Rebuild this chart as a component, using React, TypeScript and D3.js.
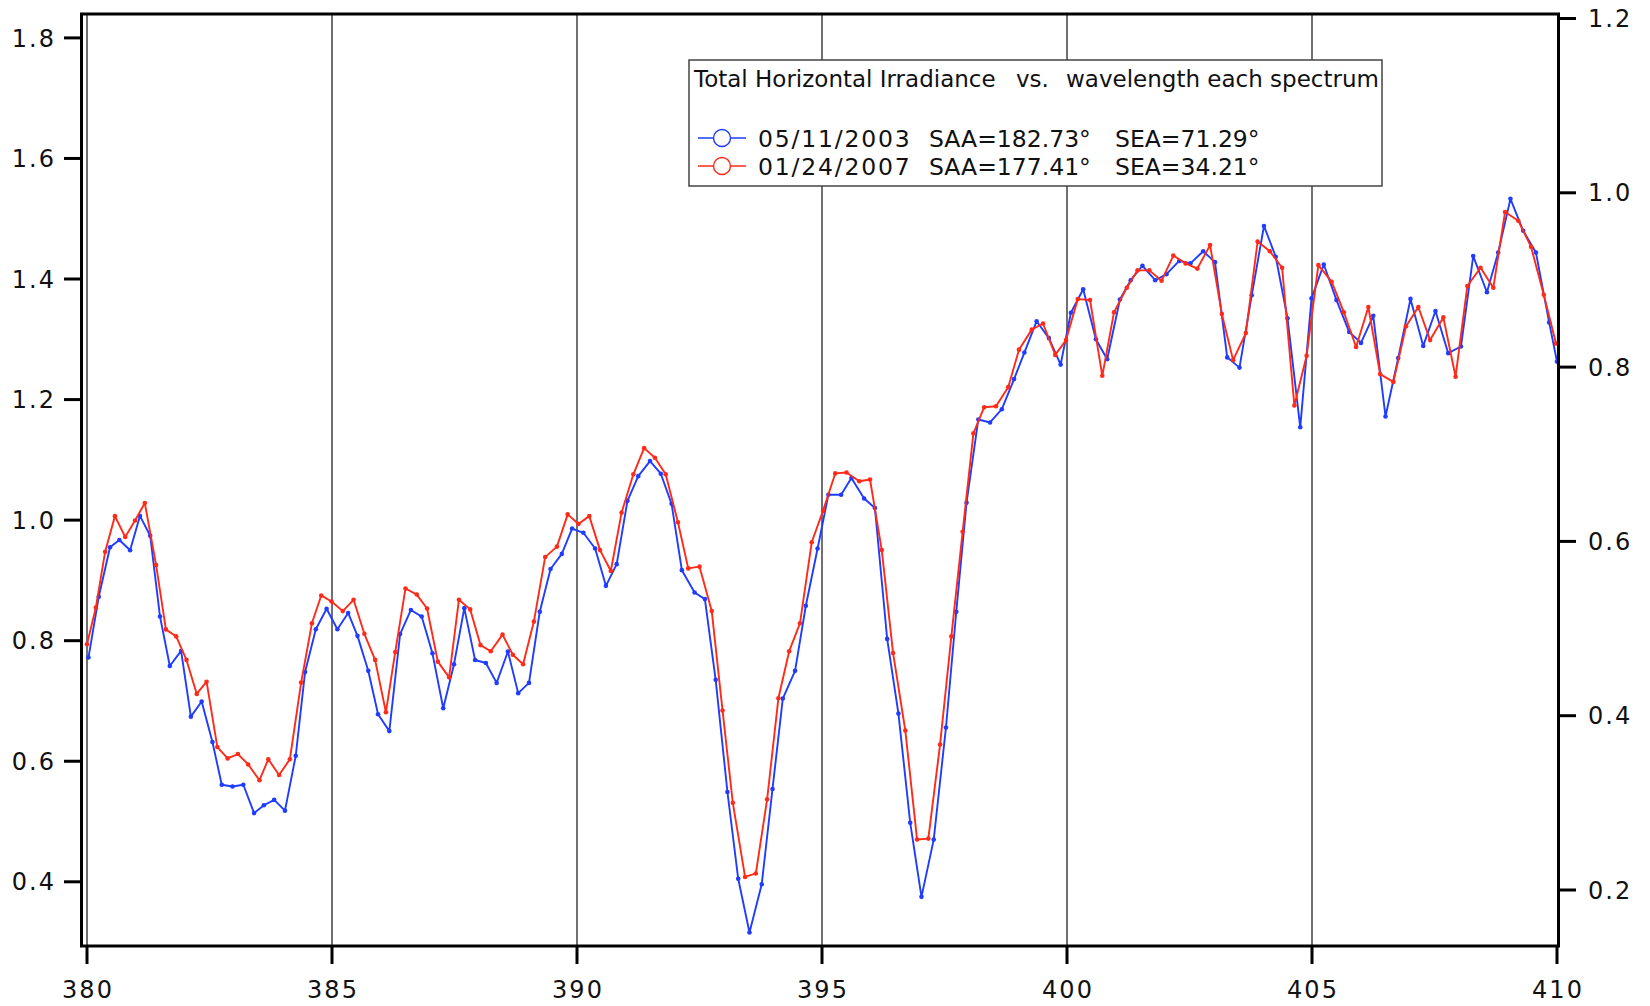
import React from "react";
import * as d3 from "d3";

// 05/11/2003 spectrum (left axis)
const blueWavelength = [
  380.03, 380.24, 380.47, 380.66, 380.88, 381.08, 381.29, 381.49, 381.69, 381.92,
  382.12, 382.34, 382.56, 382.75, 382.97, 383.19, 383.41, 383.61, 383.82, 384.04,
  384.26, 384.45, 384.67, 384.89, 385.11, 385.33, 385.52, 385.74, 385.94, 386.17,
  386.39, 386.61, 386.83, 387.05, 387.27, 387.49, 387.7, 387.92, 388.14, 388.36,
  388.59, 388.8, 389.02, 389.24, 389.46, 389.69, 389.9, 390.13, 390.37, 390.59,
  390.81, 391.03, 391.25, 391.49, 391.71, 391.93, 392.14, 392.4, 392.61, 392.83,
  393.07, 393.29, 393.52, 393.77, 393.99, 394.2, 394.45, 394.67, 394.91, 395.13,
  395.39, 395.6, 395.86, 396.08, 396.33, 396.56, 396.8, 397.03, 397.28, 397.53,
  397.74, 397.95, 398.19, 398.43, 398.67, 398.92, 399.13, 399.38, 399.63, 399.87,
  400.08, 400.33, 400.59, 400.82, 401.08, 401.3, 401.54, 401.8, 402.03, 402.29,
  402.52, 402.78, 403.02, 403.27, 403.52, 403.77, 404.02, 404.26, 404.5, 404.76,
  404.99, 405.24, 405.5, 405.76, 406.0, 406.25, 406.5, 406.76, 407.01, 407.27,
  407.52, 407.78, 408.04, 408.29, 408.57, 408.8, 409.05, 409.31, 409.57, 409.84,
  410.0,
];
const blueIrradiance = [
  0.772, 0.873, 0.955, 0.967, 0.95, 1.007, 0.974, 0.84, 0.758, 0.783,
  0.674, 0.699, 0.632, 0.561, 0.558, 0.561, 0.514, 0.527, 0.536, 0.518,
  0.609, 0.748, 0.819, 0.853, 0.819, 0.846, 0.808, 0.75, 0.678, 0.65,
  0.811, 0.851, 0.84, 0.779, 0.688, 0.761, 0.854, 0.768, 0.763, 0.73,
  0.782, 0.713, 0.73, 0.848, 0.919, 0.944, 0.986, 0.979, 0.953, 0.891,
  0.927, 1.032, 1.073, 1.098, 1.077, 1.027, 0.917, 0.88, 0.869, 0.735,
  0.549, 0.405, 0.316, 0.396, 0.554, 0.704, 0.75, 0.858, 0.953, 1.042,
  1.042, 1.07, 1.036, 1.02, 0.803, 0.679, 0.498, 0.375, 0.47, 0.656,
  0.848, 1.029, 1.167, 1.162, 1.184, 1.234, 1.278, 1.33, 1.302, 1.258,
  1.344, 1.383, 1.3, 1.267, 1.366, 1.398, 1.422, 1.398, 1.408, 1.43,
  1.426, 1.446, 1.428, 1.27, 1.253, 1.373, 1.488, 1.437, 1.335, 1.154,
  1.368, 1.424, 1.365, 1.312, 1.294, 1.339, 1.172, 1.269, 1.367, 1.289,
  1.347, 1.277, 1.288, 1.438, 1.378, 1.444, 1.533, 1.48, 1.444, 1.328,
  1.263,
];

// 01/24/2007 spectrum (right axis)
const redWavelength = [
  380.0, 380.18, 380.37, 380.57, 380.78, 380.98, 381.18, 381.41, 381.61, 381.82,
  382.03, 382.24, 382.44, 382.66, 382.87, 383.08, 383.29, 383.52, 383.7, 383.92,
  384.14, 384.37, 384.59, 384.78, 384.99, 385.22, 385.44, 385.66, 385.88, 386.1,
  386.29, 386.5, 386.73, 386.94, 387.16, 387.39, 387.59, 387.82, 388.03, 388.24,
  388.48, 388.69, 388.9, 389.12, 389.35, 389.59, 389.81, 390.03, 390.25, 390.47,
  390.69, 390.91, 391.15, 391.37, 391.59, 391.81, 392.06, 392.27, 392.5, 392.75,
  392.97, 393.18, 393.43, 393.65, 393.88, 394.11, 394.33, 394.55, 394.79, 395.02,
  395.27, 395.5, 395.76, 395.98, 396.22, 396.45, 396.7, 396.94, 397.17, 397.41,
  397.64, 397.87, 398.09, 398.31, 398.55, 398.8, 399.02, 399.28, 399.51, 399.76,
  399.98, 400.22, 400.47, 400.72, 400.96, 401.22, 401.44, 401.68, 401.93, 402.17,
  402.42, 402.66, 402.92, 403.16, 403.39, 403.65, 403.89, 404.14, 404.39, 404.64,
  404.89, 405.13, 405.4, 405.65, 405.9, 406.15, 406.39, 406.66, 406.92, 407.17,
  407.41, 407.68, 407.93, 408.17, 408.44, 408.7, 408.94, 409.21, 409.47, 409.73,
  409.98,
];
const redIrradiance = [
  0.482, 0.524, 0.588, 0.629, 0.605, 0.624, 0.644, 0.573, 0.499, 0.491,
  0.464, 0.425, 0.439, 0.364, 0.351, 0.356, 0.344, 0.326, 0.35, 0.332,
  0.35, 0.438, 0.506, 0.538, 0.531, 0.52, 0.533, 0.494, 0.464, 0.404,
  0.473, 0.546, 0.539, 0.523, 0.462, 0.444, 0.533, 0.522, 0.481, 0.474,
  0.493, 0.47, 0.459, 0.508, 0.582, 0.594, 0.631, 0.62, 0.629, 0.59,
  0.566, 0.633, 0.677, 0.707, 0.696, 0.677, 0.622, 0.569, 0.571, 0.52,
  0.406, 0.3, 0.215, 0.219, 0.304, 0.42, 0.474, 0.506, 0.599, 0.635,
  0.678, 0.679, 0.669, 0.671, 0.59, 0.472, 0.383, 0.258, 0.259, 0.367,
  0.491, 0.611, 0.724, 0.754, 0.755, 0.777, 0.82, 0.843, 0.85, 0.814,
  0.831, 0.878, 0.877, 0.79, 0.863, 0.891, 0.911, 0.911, 0.899, 0.928,
  0.919, 0.913, 0.94, 0.861, 0.808, 0.839, 0.944, 0.933, 0.914, 0.756,
  0.813, 0.917, 0.898, 0.863, 0.823, 0.869, 0.792, 0.783, 0.847, 0.869,
  0.831, 0.857, 0.789, 0.893, 0.914, 0.891, 0.978, 0.968, 0.938, 0.883,
  0.827,
];

const xTicks = [380, 385, 390, 395, 400, 405, 410];
const gridWavelengths = [380, 385, 390, 395, 400, 405];
const leftTicks = [0.4, 0.6, 0.8, 1.0, 1.2, 1.4, 1.6, 1.8];
const rightTicks = [0.2, 0.4, 0.6, 0.8, 1.0, 1.2];

const legendTitleParts = ["Total Horizontal Irradiance", "vs.", "wavelength each spectrum"];
const legendDates = ["05/11/2003", "01/24/2007"];
const legendSAA = ["SAA=182.73°", "SAA=177.41°"];
const legendSEA = ["SEA=71.29°", "SEA=34.21°"];

const BLUE = "#1f3cff";
const RED = "#ff2a18";
const FONT = "'DejaVu Sans', 'Liberation Sans', sans-serif";

// plot frame
const FRAME = { left: 81.5, right: 1558.5, top: 14, bottom: 946 };

type Pt = [number, number];

export default function App() {
  const x = d3.scaleLinear().domain([380, 410]).range([87, 1557]);
  const yLeft = d3.scaleLinear().domain([0.4, 1.8]).range([881.8, 37.9]);
  const yRight = d3.scaleLinear().domain([0.2, 1.2]).range([890, 18.5]);

  const bluePts: Pt[] = blueWavelength.map((w, i) => [w, blueIrradiance[i]]);
  const redPts: Pt[] = redWavelength.map((w, i) => [w, redIrradiance[i]]);

  const lineLeft = d3.line<Pt>().x((d) => x(d[0])).y((d) => yLeft(d[1]));
  const lineRight = d3.line<Pt>().x((d) => x(d[0])).y((d) => yRight(d[1]));

  const fmt = d3.format(".1f");

  const legendX = 689;
  const legendY = 60;
  const legendW = 693;
  const legendH = 126;
  const titleX = [694, 1016, 1066];
  const rowY = [138, 166];
  const colors = [BLUE, RED];

  return (
    <svg
      width={1650}
      height={1006}
      viewBox="0 0 1650 1006"
      style={{ position: "absolute", left: 0, top: 0, background: "#fff" }}
      fontFamily={FONT}
    >
      <defs>
        <clipPath id="plotClip">
          <rect x={84} y={15.5} width={1473.5} height={929} />
        </clipPath>
      </defs>
      <rect x={0} y={0} width={1650} height={1006} fill="#fff" />

      {/* vertical grid */}
      {gridWavelengths.map((g) => (
        <line
          key={"g" + g}
          x1={x(g)}
          x2={x(g)}
          y1={FRAME.top}
          y2={FRAME.bottom}
          stroke="#111"
          strokeWidth={1.2}
        />
      ))}

      {/* data */}
      <g clipPath="url(#plotClip)">
        <path d={lineLeft(bluePts) || ""} fill="none" stroke={BLUE} strokeWidth={1.9} strokeLinejoin="round" />
        {bluePts.map((d, i) => (
          <circle key={"b" + i} cx={x(d[0])} cy={yLeft(d[1])} r={2.3} fill={BLUE} />
        ))}
        <path d={lineRight(redPts) || ""} fill="none" stroke={RED} strokeWidth={1.9} strokeLinejoin="round" />
        {redPts.map((d, i) => (
          <circle key={"r" + i} cx={x(d[0])} cy={yRight(d[1])} r={2.3} fill={RED} />
        ))}
      </g>

      {/* frame */}
      <rect
        x={FRAME.left}
        y={FRAME.top}
        width={FRAME.right - FRAME.left}
        height={FRAME.bottom - FRAME.top}
        fill="none"
        stroke="#000"
        strokeWidth={3}
      />

      {/* left axis */}
      {leftTicks.map((t) => (
        <g key={"l" + t}>
          <line x1={64} x2={FRAME.left} y1={yLeft(t)} y2={yLeft(t)} stroke="#000" strokeWidth={3} />
          <text
            x={56}
            y={yLeft(t)}
            dy="0.36em"
            textAnchor="end"
            fontSize={24}
            letterSpacing={2}
            fill="#111"
          >
            {fmt(t)}
          </text>
        </g>
      ))}

      {/* right axis */}
      {rightTicks.map((t) => (
        <g key={"r" + t}>
          <line x1={FRAME.right} x2={1576} y1={yRight(t)} y2={yRight(t)} stroke="#000" strokeWidth={3} />
          <text x={1588} y={yRight(t)} dy="0.36em" textAnchor="start" fontSize={24} letterSpacing={2} fill="#111">
            {fmt(t)}
          </text>
        </g>
      ))}

      {/* bottom axis */}
      {xTicks.map((t) => (
        <g key={"x" + t}>
          <line x1={x(t)} x2={x(t)} y1={FRAME.bottom} y2={964} stroke="#000" strokeWidth={3} />
          <text x={x(t) + 1} y={998} textAnchor="middle" fontSize={24} letterSpacing={2} fill="#111">
            {t}
          </text>
        </g>
      ))}

      {/* legend */}
      <rect x={legendX} y={legendY} width={legendW} height={legendH} fill="#fff" stroke="#444" strokeWidth={1.5} />
      {legendTitleParts.map((s, i) => (
        <text key={"t" + i} x={titleX[i]} y={87} fontSize={23} fill="#111">
          {s}
        </text>
      ))}
      {legendDates.map((d, i) => (
        <g key={"le" + i}>
          <line x1={698} x2={746} y1={rowY[i]} y2={rowY[i]} stroke={colors[i]} strokeWidth={1.4} />
          <circle cx={722} cy={rowY[i]} r={8.5} fill="#fff" stroke={colors[i]} strokeWidth={1.4} />
          <text x={758} y={rowY[i] + 8.5} fontSize={23.5} letterSpacing={1.8} fill="#111">
            {d}
          </text>
          <text x={929} y={rowY[i] + 8.5} fontSize={23.5} fill="#111">
            {legendSAA[i]}
          </text>
          <text x={1115} y={rowY[i] + 8.5} fontSize={23.5} fill="#111">
            {legendSEA[i]}
          </text>
        </g>
      ))}
    </svg>
  );
}
